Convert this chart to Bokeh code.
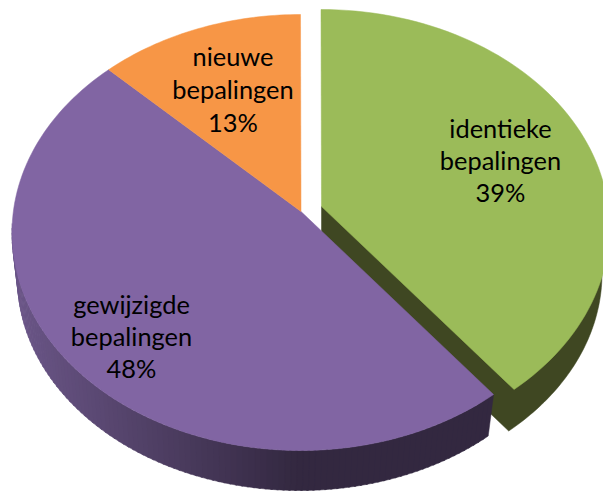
import math
from bokeh.plotting import figure
from bokeh.models import Range1d
from bokeh.core.properties import value
from bokeh.embed import file_html
from bokeh.resources import INLINE

# Chart data
categories = ["identieke bepalingen", "gewijzigde bepalingen", "nieuwe bepalingen"]
shares = [39, 48, 13]
label_lines = [["identieke", "bepalingen", "39%"],
               ["gewijzigde", "bepalingen", "48%"],
               ["nieuwe", "bepalingen", "13%"]]
top_colors = ["#9bbb59", "#8165a3", "#f79646"]

W, H = 603, 491
p = figure(width=W, height=H, output_backend="svg", toolbar_location=None,
           x_range=Range1d(0, W), y_range=Range1d(H, 0),
           min_border=0, outline_line_color=None, background_fill_color="white",
           border_fill_color="white")
p.axis.visible = False
p.grid.visible = False

# Projection of the tilted pie
CX, CY, RX, RY = 300.0, 232.0, 288.5, 218.0     # upper rim
LCX, LCY, LRX, LRY = 299.0, 278.0, 282.0, 212.0  # lower rim
APEX = (300.5, 211.0)
EXPLODE = (20.5, -5.0)
APEX_DROP = 46.0


def warp(deg):
    r = math.radians(deg)
    return deg - 5.5 * math.sin(r) - 1.12 * math.sin(2 * r)


cum = [0.0]
for s in shares:
    cum.append(cum[-1] + s)
total = cum[-1]
bounds = [warp(360.0 * c / total) for c in cum]


def upper(t, dx=0.0, dy=0.0):
    r = math.radians(t)
    return CX + RX * math.sin(r) + dx, CY - RY * math.cos(r) + dy


def lower(t, dx=0.0, dy=0.0):
    r = math.radians(t)
    return LCX + LRX * math.sin(r) + dx, LCY - LRY * math.cos(r) + dy


def arc(fn, a, b, n, dx=0.0, dy=0.0):
    return [fn(a + (b - a) * i / n, dx, dy) for i in range(n + 1)]


def mix(c1, c2, f):
    f = max(0.0, min(1.0, f))
    return "#%02x%02x%02x" % tuple(round(c1[i] + (c2[i] - c1[i]) * f) for i in range(3))


def patch(pts, color, lw=0.5):
    p.patch([q[0] for q in pts], [q[1] for q in pts], fill_color=color,
            line_color=color, line_width=lw)


ex, ey = EXPLODE
WALL = "#3f4722"
# green wall (flat dark): one outline round the cut and the curved rim
g_top = arc(upper, bounds[0], bounds[1], 80, ex, ey)
g_low = arc(lower, 85, bounds[1], 60, ex, ey)
apex_g = (APEX[0] + ex, APEX[1] + ey)
patch([apex_g, upper(85, ex, ey)] + g_low + [(apex_g[0], apex_g[1] + APEX_DROP)], WALL)
# green top
patch([apex_g] + g_top, top_colors[0])

# purple wall, shaded by strips
n = 110
a0, a1 = bounds[1], 272.0
xs, ys, cols = [], [], []
dark = (0x33, 0x28, 0x40)
light = (0x6b, 0x56, 0x88)
for i in range(n):
    t0 = a0 + (a1 - a0) * i / n
    t1 = a0 + (a1 - a0) * (i + 1.3) / n
    u0, u1, l1, l0 = upper(t0), upper(t1), lower(t1), lower(t0)
    xs.append([u0[0], u1[0], l1[0], l0[0]])
    ys.append([u0[1], u1[1], l1[1], l0[1]])
    mx = (u0[0] + l0[0]) / 2
    cols.append(mix(dark, light, (300 - mx) / 285.0))
p.patches(xs, ys, fill_color=cols, line_color=cols, line_width=0.5)

# purple + orange tops
patch([APEX] + arc(upper, bounds[1], bounds[2], 120), top_colors[1])
patch([APEX] + arc(upper, bounds[2], bounds[3], 40), top_colors[2])

# labels
FONT = "Lato"
SIZE = "25.4px"
centers = [(500, [127.5, 159.5, 191.5]), (131, [303.5, 335.5, 367.5]), (232.5, [55.5, 88.5, 121.5])]
for lines, (cx, yy) in zip(label_lines, centers):
    for line, y in zip(lines, yy):
        p.text([cx], [y], text=[line], text_font=value(FONT), text_font_size=value(SIZE),
               text_align="center", text_baseline="middle", text_color="#000000")

open("out.html", "w").write(file_html(p, INLINE))
